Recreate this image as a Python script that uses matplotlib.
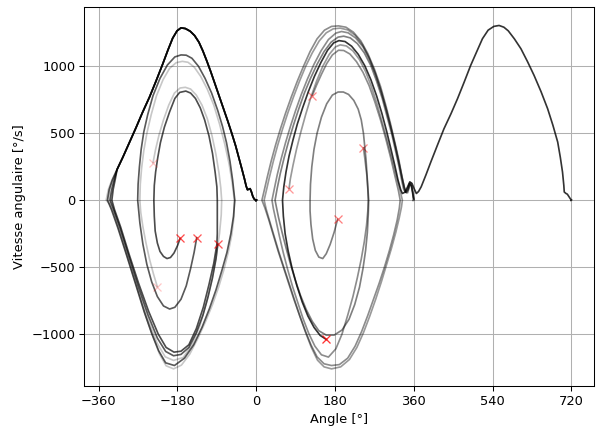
import numpy as np
import matplotlib
matplotlib.use("Agg")
import matplotlib.pyplot as plt

# ---------------- data (angle [deg], angular velocity [deg/s]) ----------------
FINAL_L = [(-318, 230), (-305, 320), (-290, 430), (-275, 540), (-260, 655), (-244, 770),
           (-229, 890), (-214, 1015), (-202, 1120), (-191, 1210), (-181, 1265), (-172, 1287),
           (-162, 1282), (-151, 1262), (-141, 1230), (-131, 1180), (-122, 1115), (-113, 1040),
           (-104, 960), (-95, 875), (-85, 780), (-75, 685), (-65, 590), (-56, 500), (-47, 405),
           (-40, 320), (-33, 235), (-27, 160), (-23, 105), (-20, 78), (-17, 82), (-14, 86),
           (-11, 62), (-8, 30), (-5, 10), (-2, 2), (-1, -4), (1, 3), (0, -2), (-1, 0)]

L1_PATH = [(-174, -285), (-180, -340), (-188, -395), (-196, -428), (-204, -436), (-212, -420),
           (-220, -383), (-226, -320), (-231, -230), (-233, -120), (-234, 0), (-233, 110),
           (-230, 210), (-225, 320), (-219, 430), (-210, 545), (-198, 660), (-186, 760),
           (-175, 805), (-161, 815), (-150, 800), (-139, 760), (-128, 690), (-118, 600),
           (-108, 480), (-100, 350), (-94, 210), (-90, 100), (-89, 0), (-89, -110), (-89, -250),
           (-90, -330), (-97, -470), (-108, -630), (-121, -800), (-137, -960), (-154, -1080),
           (-172, -1128), (-188, -1135), (-206, -1100), (-224, -1000), (-246, -830),
           (-269, -620), (-291, -400), (-310, -200), (-324, -70), (-330, 0), (-327, 80),
           (-322, 160)]

L2_PATH = [(-136, -279), (-142, -390), (-150, -510), (-160, -640), (-172, -740), (-186, -800),
           (-198, -813), (-212, -790), (-226, -720), (-239, -610), (-250, -480), (-259, -330),
           (-266, -170), (-271, 0), (-270, 120), (-267, 250), (-263, 380), (-257, 510),
           (-248, 640), (-236, 780), (-220, 910), (-203, 1010), (-186, 1070), (-172, 1085),
           (-160, 1083), (-147, 1060), (-132, 1000), (-117, 910), (-102, 800), (-88, 670),
           (-77, 550), (-68, 430), (-60, 290), (-54, 150), (-49, 0), (-52, -120), (-58, -250),
           (-67, -390), (-79, -530), (-92, -670), (-107, -810), (-124, -950), (-143, -1080),
           (-164, -1180), (-187, -1235), (-207, -1215), (-223, -1125), (-239, -995),
           (-256, -835), (-275, -635), (-296, -415), (-316, -210), (-331, -70), (-340, 0),
           (-336, 80), (-329, 150)]

L3_PATH = [(-88, -329), (-92, -440), (-100, -580), (-110, -720), (-122, -860), (-137, -990),
           (-154, -1100), (-172, -1152), (-189, -1162), (-207, -1130), (-226, -1030),
           (-247, -860), (-269, -650), (-291, -420), (-311, -210), (-326, -70), (-334, 0),
           (-330, 80), (-324, 160)]

L4_PATH = [(-236, 279), (-230, 380), (-222, 490), (-212, 600), (-200, 710), (-187, 800),
           (-174, 838), (-162, 843), (-150, 830), (-137, 785), (-124, 710), (-112, 610),
           (-101, 480), (-92, 340), (-85, 200), (-81, 90), (-79, 0), (-80, -110), (-84, -250),
           (-91, -410), (-101, -590), (-114, -770), (-129, -940), (-147, -1080), (-167, -1175),
           (-189, -1197), (-208, -1170), (-227, -1065), (-248, -885), (-270, -665),
           (-292, -435), (-312, -225), (-327, -75), (-336, 0), (-333, 80), (-325, 160)]

L5_PATH = [(-226, -648), (-235, -550), (-244, -440), (-252, -320), (-259, -200), (-264, -90),
           (-266, 0), (-265, 120), (-262, 240), (-257, 370), (-250, 500), (-240, 640),
           (-228, 780), (-213, 900), (-198, 985), (-183, 1027), (-169, 1037), (-156, 1030),
           (-142, 995), (-127, 925), (-112, 830), (-97, 710), (-84, 570), (-72, 420),
           (-62, 270), (-55, 130), (-50, 0), (-51, -130), (-56, -260), (-64, -390), (-74, -520),
           (-86, -650), (-100, -780), (-115, -900), (-133, -1030), (-152, -1150), (-171, -1232),
           (-189, -1260), (-206, -1237), (-221, -1150), (-236, -1020), (-252, -870),
           (-270, -680), (-290, -470), (-309, -270), (-326, -100), (-335, -30), (-343, 0),
           (-338, 80), (-330, 150)]

M1_PATH = [(75, 87), (78, 160), (84, 260), (92, 380), (102, 510), (113, 640), (125, 770),
           (138, 890), (152, 1000), (167, 1090), (181, 1145), (192, 1160), (206, 1152),
           (221, 1115), (236, 1050), (250, 960), (263, 850), (276, 720), (288, 580), (300, 440),
           (311, 300), (321, 170), (329, 70), (334, 0), (332, -50), (327, -130), (319, -240),
           (309, -360), (298, -480), (286, -610), (273, -740), (259, -870), (245, -990),
           (230, -1100), (213, -1190), (193, -1245), (172, -1260), (155, -1245), (140, -1195),
           (126, -1100), (113, -990), (100, -870), (88, -750), (76, -630), (64, -510),
           (52, -390), (41, -270), (31, -160), (23, -70), (18, 0), (23, 70), (30, 170),
           (39, 290), (49, 410), (60, 530), (72, 650), (85, 770), (99, 890), (113, 1000),
           (128, 1100), (144, 1190), (160, 1250), (176, 1280), (192, 1285), (209, 1272),
           (226, 1232), (243, 1160), (258, 1065), (272, 950), (285, 820), (297, 680),
           (308, 540), (318, 400), (327, 270), (334, 160), (339, 90), (343, 55), (347, 75),
           (351, 125), (355, 110), (358, 60), (359, 25), (360, 5)]

M2_PATH = [(128, 781), (138, 860), (149, 940), (161, 1020), (174, 1085), (188, 1120),
           (200, 1118), (214, 1092), (229, 1035), (244, 955), (258, 855), (271, 735),
           (284, 600), (296, 460), (307, 320), (317, 180), (325, 70), (329, 0), (327, -60),
           (322, -150), (314, -260), (304, -380), (293, -500), (281, -620), (268, -740),
           (255, -860), (241, -980), (226, -1090), (209, -1180), (190, -1228), (172, -1235),
           (155, -1222), (139, -1170), (125, -1080), (112, -975), (99, -860), (86, -740),
           (74, -620), (62, -500), (50, -380), (39, -260), (29, -150), (20, -60), (13, 0),
           (18, 70), (25, 170), (34, 290), (44, 410), (55, 530), (67, 650), (80, 770),
           (94, 890), (108, 1000), (123, 1110), (139, 1205), (156, 1270), (172, 1298),
           (188, 1302), (205, 1292), (222, 1255), (239, 1190), (255, 1095), (270, 980),
           (284, 850), (296, 710), (307, 570), (317, 430), (326, 300), (333, 180), (338, 100),
           (342, 60), (346, 55), (350, 100), (353, 130), (356, 95), (358, 45), (360, 10)]

M3_PATH = [(245, 392), (249, 290), (253, 180), (255, 80), (256, 0), (255, -80), (252, -190),
           (247, -310), (240, -440), (231, -580), (221, -720), (209, -860), (196, -1000),
           (182, -1110), (165, -1172), (149, -1155), (134, -1090), (120, -995), (107, -885),
           (95, -765), (83, -645), (72, -520), (62, -395), (53, -270), (45, -150), (39, -60),
           (36, 0), (41, 80), (48, 190), (57, 310), (67, 430), (78, 550), (90, 670),
           (103, 790), (117, 905), (132, 1015), (148, 1115), (165, 1200), (182, 1248),
           (195, 1260), (210, 1250), (227, 1212), (244, 1145), (259, 1050), (273, 935),
           (286, 805), (298, 665), (309, 525), (319, 390), (327, 265), (334, 155), (339, 85),
           (342, 58), (347, 80), (351, 120), (355, 105), (358, 55), (360, 12)]

M4_PATH = [(186, -142), (178, -240), (169, -330), (160, -400), (152, -436), (143, -425),
           (135, -375), (129, -290), (125, -180), (123, -80), (123, 0), (124, 120), (127, 250),
           (132, 380), (139, 500), (149, 620), (161, 720), (174, 785), (187, 808), (199, 808),
           (211, 790), (223, 745), (233, 680), (240, 600), (245, 500), (248, 400), (251, 300),
           (253, 200), (255, 100), (257, 0), (256, -110), (254, -240), (250, -374),
           (244, -510), (236, -650), (225, -780), (212, -890), (196, -970), (178, -1008),
           (160, -1008), (143, -975), (128, -905), (114, -815), (101, -710), (89, -595),
           (78, -475), (68, -355), (59, -240), (51, -130), (46, -50), (43, 0), (48, 90),
           (55, 200), (64, 320), (74, 440), (85, 560), (97, 680), (110, 800), (124, 910),
           (139, 1015), (155, 1110), (171, 1180), (187, 1218), (200, 1225), (215, 1212),
           (231, 1170), (247, 1100), (262, 1005), (275, 890), (288, 760), (299, 625),
           (310, 490), (319, 360), (327, 240), (333, 140), (337, 80), (341, 60), (346, 85),
           (350, 125), (354, 110), (357, 60), (359, 15), (360, 2), (358, -3), (361, 2), (359, 0)]

M5_PATH = [(160, -1040), (146, -1010), (132, -950), (118, -865), (105, -760), (93, -640),
           (82, -510), (73, -380), (66, -250), (62, -120), (60, 0), (63, 100), (68, 210),
           (75, 330), (84, 450), (94, 570), (106, 690), (119, 810), (133, 925), (148, 1030),
           (163, 1120), (177, 1175), (189, 1192), (203, 1185), (218, 1150), (233, 1090),
           (248, 1005), (262, 900), (275, 780), (287, 650), (298, 515), (308, 380), (317, 255),
           (324, 150), (330, 80), (334, 50), (340, 60), (346, 100), (351, 137), (356, 125),
           (361, 85), (366, 50), (371, 65), (377, 100), (388, 190), (399, 285), (414, 410),
           (429, 533), (445, 645), (460, 758), (475, 880), (490, 1006), (504, 1110),
           (517, 1206), (530, 1270), (543, 1298), (555, 1305), (566, 1292), (576, 1265),
           (590, 1205), (605, 1131), (620, 1035), (635, 932), (651, 810), (666, 683),
           (678, 560), (689, 434), (695, 320), (700, 210), (703, 110), (704, 61), (708, 50),
           (711, 45), (715, 25), (718, 10), (720, 3), (719, -3), (721, 2), (720, 0)]

TRAJ_NAMES = ["L1", "L2", "L3", "L4", "L5", "M1", "M2", "M3", "M4", "M5"]
TRAJ_ALPHA = [0.7, 0.65, 0.65, 0.22, 0.22, 0.4, 0.45, 0.45, 0.5, 0.8]

X_TICKS = [-360, -180, 0, 180, 360, 540, 720]
X_LABEL = "Angle [°]"
Y_LABEL = "Vitesse angulaire [°/s]"

trajectories = {
    "L1": L1_PATH + FINAL_L,
    "L2": L2_PATH + FINAL_L,
    "L3": L3_PATH + FINAL_L,
    "L4": L4_PATH + FINAL_L,
    "L5": L5_PATH + FINAL_L,
    "M1": M1_PATH,
    "M2": M2_PATH,
    "M3": M3_PATH,
    "M4": M4_PATH,
    "M5": M5_PATH,
}

# ---------------- plot ----------------
DPI = 93.28
fig = plt.figure(figsize=(597 / DPI, 427 / DPI), dpi=DPI)
ax = fig.add_axes([0.1412, 0.096, 0.995 - 0.1412, 0.983 - 0.096])

for name, a in zip(TRAJ_NAMES, TRAJ_ALPHA):
    pts = np.array(trajectories[name], dtype=float)
    ax.plot(pts[:, 0], pts[:, 1], color="black", alpha=a, lw=1.3,
            solid_joinstyle="round", solid_capstyle="round")
    ax.plot(pts[0, 0], pts[0, 1], "x", color="red", alpha=a, ms=6.5, mew=1.0)

ax.set_xlim(-393, 772)
ax.set_ylim(-1388, 1441)
ax.set_xticks(X_TICKS)
ax.grid(True)
ax.set_xlabel(X_LABEL)
ax.set_ylabel(Y_LABEL)

fig.savefig("out.png", dpi=DPI)
